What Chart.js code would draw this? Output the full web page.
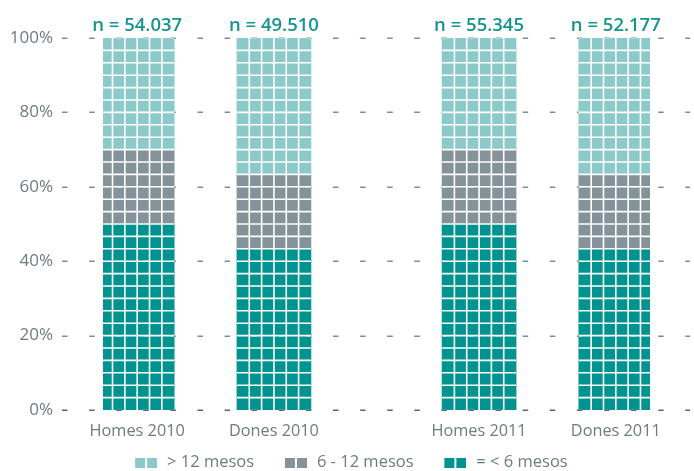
<!DOCTYPE html>
<html>
<head>
<meta charset="utf-8">
<script src="https://cdn.jsdelivr.net/npm/chart.js@4/dist/chart.umd.min.js"></script>
<style>
  html, body { margin: 0; padding: 0; background: #fff; }
  #wrap { width: 694px; height: 471px; }
</style>
</head>
<body>
<div id="wrap"><canvas id="chart" width="694" height="471"></canvas></div>
<script>
const categories = ['Homes 2010', 'Dones 2010', 'Homes 2011', 'Dones 2011'];
const sampleSizes = [54037, 49510, 55345, 52177];
const upTo6 = [50.0, 43.3, 50.0, 43.3];
const from6to12 = [20.0, 20.0, 20.0, 20.0];
const over12 = [30.0, 36.7, 30.0, 36.7];
const yTicks = [0, 20, 40, 60, 80, 100];
const seriesNames = ['= < 6 mesos', '6 - 12 mesos', '> 12 mesos'];
const seriesColors = ['#00938f', '#84939a', '#8ccaca'];

// bars sit in 8 equal slots, with a wider gap between the two years
const SLOT_OF = [0, 2, 5, 7];
const labels = new Array(8).fill('');
SLOT_OF.forEach((s, i) => { labels[s] = categories[i]; });
const spread = arr => {
  const out = new Array(8).fill(null);
  SLOT_OF.forEach((s, i) => { out[s] = arr[i]; });
  return out;
};

const GRAY_TEXT = '#6d7b83';
const WAFFLE_ROWS = 30, WAFFLE_COLS = 6;
const LEGEND_H = 26.5;

// legend swatch: two little squares, with blank room on the left
function swatch(color) {
  const c = document.createElement('canvas');
  c.width = 41; c.height = 10;
  const g = c.getContext('2d');
  g.fillStyle = color;
  g.fillRect(19, 0, 10, 10);
  g.fillRect(31, 0, 10, 10);
  return c;
}

function barRects(chart) {
  const metas = chart.data.datasets.map((d, i) => chart.getDatasetMeta(i));
  return SLOT_OF.map(s => {
    const first = metas[0].data[s];
    const last = metas[metas.length - 1].data[s];
    return { left: first.x - first.width / 2, right: first.x + first.width / 2,
             top: last.y, bottom: first.base, x: first.x };
  });
}

function dashedGrid(chart, color) {
  const { ctx, chartArea, scales: { y } } = chart;
  const x0 = chartArea.left - 41, x1 = chartArea.right + 40;
  ctx.setLineDash([5.5, 21.6]);
  ctx.lineWidth = 1.5;
  yTicks.forEach(v => {
    const py = Math.round(y.getPixelForValue(v)) + 0.25;
    ctx.strokeStyle = color || (v === 0 ? '#5b666c' : '#7f8b92');
    ctx.beginPath();
    ctx.moveTo(x0, py);
    ctx.lineTo(x1, py);
    ctx.stroke();
  });
  ctx.setLineDash([]);
}

const legendFitPlugin = {
  id: 'legendFit',
  beforeLayout(chart) {
    const lg = chart.legend;
    if (lg && !lg._fixedFit) {
      const fit = lg.fit;
      lg.fit = function () { fit.call(this); this.height = LEGEND_H; };
      lg._fixedFit = true;
    }
  },
  afterLayout(chart) {
    chart.legend.left -= 6;
    chart.legend.right -= 6;
  }
};

const gridPlugin = {
  id: 'dashGrid',
  beforeDatasetsDraw(chart) {
    chart.ctx.save();
    dashedGrid(chart);
    chart.ctx.restore();
  }
};

const wafflePlugin = {
  id: 'waffle',
  afterDatasetsDraw(chart) {
    const { ctx, scales: { y } } = chart;
    const rects = barRects(chart);
    ctx.save();
    ctx.strokeStyle = '#ffffff';
    ctx.lineWidth = 1.6;
    rects.forEach(r => {
      const w = r.right - r.left;
      for (let k = 1; k < WAFFLE_COLS; k++) {
        const px = r.left + k * w / WAFFLE_COLS;
        ctx.beginPath(); ctx.moveTo(px, r.top); ctx.lineTo(px, r.bottom); ctx.stroke();
      }
      for (let k = 1; k < WAFFLE_ROWS; k++) {
        const py = y.getPixelForValue(k * 100 / WAFFLE_ROWS);
        ctx.beginPath(); ctx.moveTo(r.left, py); ctx.lineTo(r.right, py); ctx.stroke();
      }
    });
    // faint grid dashes showing through the bars
    ctx.beginPath();
    rects.forEach(r => ctx.rect(r.left, r.top, r.right - r.left, r.bottom - r.top));
    ctx.clip();
    dashedGrid(chart, 'rgba(255,255,255,0.35)');
    ctx.restore();

    // n = ... labels above each bar
    ctx.save();
    ctx.font = '600 18.5px "Open Sans"';
    ctx.fillStyle = '#14958f';
    ctx.textAlign = 'center';
    ctx.textBaseline = 'alphabetic';
    rects.forEach((r, i) => {
      ctx.fillText('n = ' + sampleSizes[i].toLocaleString('de-DE'), r.x, r.top - 7);
    });
    ctx.restore();
  }
};

const noPad = s => { s.paddingTop = 0; s.paddingBottom = 0; };

new Chart(document.getElementById('chart'), {
  type: 'bar',
  data: {
    labels: labels,
    datasets: [
      { label: seriesNames[0], data: spread(upTo6), backgroundColor: seriesColors[0], pointStyle: swatch(seriesColors[0]) },
      { label: seriesNames[1], data: spread(from6to12), backgroundColor: seriesColors[1], pointStyle: swatch(seriesColors[1]) },
      { label: seriesNames[2], data: spread(over12), backgroundColor: seriesColors[2], pointStyle: swatch(seriesColors[2]) },
    ]
  },
  options: {
    responsive: false,
    animation: false,
    barThickness: 74,
    layout: { padding: { left: 0, right: 0, top: 38, bottom: 0 } },
    plugins: {
      legend: {
        position: 'bottom',
        reverse: true,
        labels: {
          usePointStyle: true, pointStyleWidth: 44.5, boxHeight: 10,
          padding: 10, color: GRAY_TEXT,
          font: { family: '"Open Sans"', size: 16.5 }
        }
      },
      tooltip: { enabled: false }
    },
    scales: {
      x: {
        stacked: true,
        afterFit: s => { s.height = 34.5; },
        grid: { display: false, drawTicks: false },
        border: { display: false },
        ticks: { color: GRAY_TEXT, font: { family: '"Open Sans"', size: 16.3 }, padding: 12, autoSkip: false, maxRotation: 0 }
      },
      y: {
        stacked: true, min: 0, max: 100,
        afterFit: s => { s.width = 103; noPad(s); },
        afterBuildTicks: s => { s.ticks = yTicks.map(v => ({ value: v })); },
        grid: { display: false, drawTicks: false },
        border: { display: false },
        ticks: { color: GRAY_TEXT, font: { family: '"Open Sans"', size: 17 }, padding: 50, callback: v => v + '%' }
      },
      yRight: {
        position: 'right', display: true,
        afterFit: s => { s.width = 44; noPad(s); },
        grid: { display: false, drawTicks: false },
        border: { display: false },
        ticks: { display: false }
      }
    }
  },
  plugins: [legendFitPlugin, gridPlugin, wafflePlugin]
});
</script>
</body>
</html>
